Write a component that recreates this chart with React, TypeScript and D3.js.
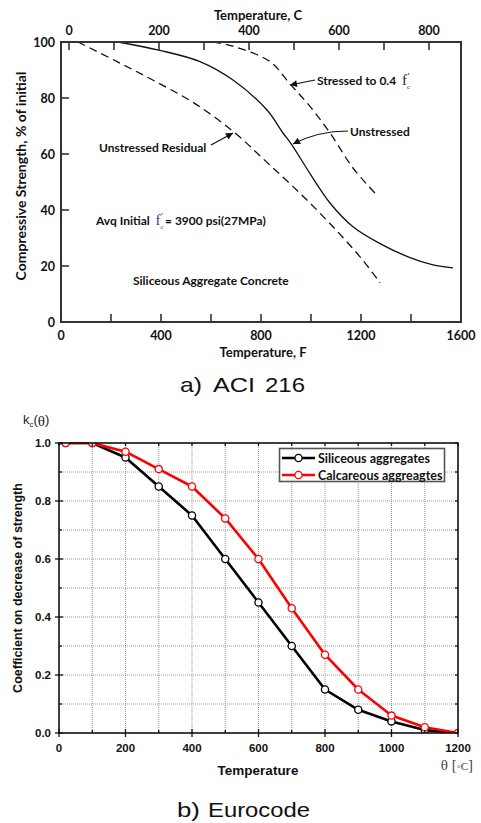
import React from 'react';
import * as d3 from 'd3';

// ---------- Chart a) ACI 216 ----------
const fTickLabels = [0, 400, 800, 1200, 1600];
const fTickMarks = [200, 400, 600, 800, 1000, 1200, 1400];
const cTickLabels = [0, 200, 400, 600, 800];
const cTickMarks = [0, 100, 200, 300, 400, 500, 600, 700, 800];
const pctTickLabels = [0, 20, 40, 60, 80, 100];
const pctTickMarks = [20, 40, 60, 80];

const unstressedF = [228, 396, 556, 688, 824, 888, 924, 996, 1076, 1168, 1276, 1396, 1488, 1568];
const unstressedPct = [100, 97, 93, 86.4, 75.7, 67.5, 63.2, 53, 42.5, 34, 28, 23, 20.4, 19.3];

const stressedF = [608, 688, 836, 916, 996, 1076, 1168, 1256];
const stressedPct = [100, 98.5, 93, 85, 77, 67.5, 55, 46];

const residualF = [68, 224, 376, 536, 696, 824, 956, 1088, 1208, 1276];
const residualPct = [100, 93, 86, 78, 67.5, 57, 46, 34, 22, 14];

// ---------- Chart b) Eurocode ----------
const euroTemps = [20, 100, 200, 300, 400, 500, 600, 700, 800, 900, 1000, 1100, 1200];
const siliceous = [1.0, 1.0, 0.95, 0.85, 0.75, 0.6, 0.45, 0.3, 0.15, 0.08, 0.04, 0.01, 0.0];
const calcareous = [1.0, 1.0, 0.97, 0.91, 0.85, 0.74, 0.6, 0.43, 0.27, 0.15, 0.06, 0.02, 0.0];
const tempTickLabels = [0, 200, 400, 600, 800, 1000, 1200];
const tempMinor = [100, 300, 500, 700, 900, 1100];
const kTickLabels = [0.0, 0.2, 0.4, 0.6, 0.8, 1.0];
const kMinor = [0.1, 0.3, 0.5, 0.7, 0.9];
const seriesNames = ['Siliceous aggregates', 'Calcareous aggreagtes'];
const seriesColors = ['#000000', '#ff0000'];

const CAL = 'Lato, "Open Sans", sans-serif';
const ARIAL = '"Liberation Sans", Arial, sans-serif';
const SERIF = '"Liberation Serif", "Times New Roman", serif';

function FPrimeC({ x, y, color = '#222' }: { x: number; y: number; color?: string }) {
  return (
    <g fontFamily={SERIF} fill={color}>
      <text x={x} y={y} fontSize={15}>f</text>
      <text x={x + 5.5} y={y - 5} fontSize={10}>′</text>
      <text x={x + 5} y={y + 4} fontSize={7}>c</text>
    </g>
  );
}

function ChartA() {
  const x = d3.scaleLinear().domain([0, 1600]).range([61, 461]);
  const y = d3.scaleLinear().domain([0, 100]).range([322, 42]);
  const xc = (c: number) => x(c * 1.8 + 32);
  const line = d3
    .line<[number, number]>()
    .x((d) => x(d[0]))
    .y((d) => y(d[1]))
    .curve(d3.curveCatmullRom.alpha(0.5));
  const toPts = (a: number[], b: number[]) => a.map((v, i) => [v, b[i]] as [number, number]);
  const arrowId = 'arrA';
  return (
    <g>
      <defs>
        <marker id={arrowId} viewBox="0 0 10 10" refX="10" refY="5" markerWidth="9" markerHeight="7" orient="auto" markerUnits="userSpaceOnUse">
          <path d="M0,0 L10,5 L0,10 Z" fill="#111" />
        </marker>
      </defs>
      {/* curves */}
      <path d={line(toPts(unstressedF, unstressedPct)) || ''} fill="none" stroke="#111" strokeWidth={1.3} />
      <path d={line(toPts(stressedF, stressedPct)) || ''} fill="none" stroke="#111" strokeWidth={1.3} strokeDasharray="8,5" />
      <path d={line(toPts(residualF, residualPct)) || ''} fill="none" stroke="#111" strokeWidth={1.3} strokeDasharray="8,5" />

      {/* frame */}
      <rect x={61} y={42} width={400} height={280} fill="none" stroke="#333" strokeWidth={2} />
      {fTickMarks.map((t) => (
        <line key={'bt' + t} x1={x(t)} x2={x(t)} y1={322} y2={314} stroke="#333" strokeWidth={1.6} />
      ))}
      {cTickMarks.map((t) => (
        <line key={'tt' + t} x1={xc(t)} x2={xc(t)} y1={42} y2={50} stroke="#333" strokeWidth={1.6} />
      ))}
      {pctTickMarks.map((t) => (
        <line key={'lt' + t} x1={61} x2={69} y1={y(t)} y2={y(t)} stroke="#333" strokeWidth={1.6} />
      ))}

      {/* tick labels */}
      <g fontFamily={CAL} fontWeight="bold" fontSize={12.5} fill="#111">
        {fTickLabels.map((t) => (
          <text key={'fl' + t} x={x(t)} y={340} textAnchor="middle">{t}</text>
        ))}
        {cTickLabels.map((t) => (
          <text key={'cl' + t} x={xc(t)} y={35} textAnchor="middle">{t}</text>
        ))}
        {pctTickLabels.map((t) => (
          <text key={'pl' + t} x={55} y={y(t) + 4.5} textAnchor="end">{t}</text>
        ))}
      </g>

      {/* axis titles */}
      <g fontFamily={CAL} fontWeight="bold" fontSize={13} fill="#111">
        <text x={258} y={19.5} textAnchor="middle">Temperature, C</text>
        <text x={263} y={356.5} textAnchor="middle">Temperature, F</text>
        <text transform="translate(26,176) rotate(-90)" textAnchor="middle" fontSize={14}>Compressive Strength, % of initial</text>
      </g>

      {/* annotations */}
      <g fontFamily={CAL} fontWeight="bold" fontSize={12} fill="#111">
        <text x={317} y={84.5}>Stressed to 0.4</text>
        <text x={350} y={135.5}>Unstressed</text>
        <text x={99} y={151.5}>Unstressed Residual</text>
        <text x={96} y={224.5}>Avq Initial</text>
        <text x={165} y={224.5}>= 3900 psi(27MPa)</text>
        <text x={133} y={284.5}>Siliceous Aggregate Concrete</text>
      </g>
      <FPrimeC x={402} y={85} />
      <FPrimeC x={155.5} y={225} color="#1f3f7a" />
      <line x1={315} y1={80} x2={290} y2={85} stroke="#111" strokeWidth={1.2} markerEnd={`url(#${arrowId})`} />
      <path d="M348,131 Q318,131 293,144" fill="none" stroke="#111" strokeWidth={1.2} markerEnd={`url(#${arrowId})`} />
      <line x1={211} y1={145} x2={233} y2={133} stroke="#111" strokeWidth={1.2} markerEnd={`url(#${arrowId})`} />

      <g fontFamily={ARIAL} fontSize={21} fill="#111">
        <text x={180} y={392} textLength={22} lengthAdjust="spacingAndGlyphs">a)</text>
        <text x={213} y={392} textLength={42} lengthAdjust="spacingAndGlyphs">ACI</text>
        <text x={265} y={392} textLength={40} lengthAdjust="spacingAndGlyphs">216</text>
      </g>
    </g>
  );
}

function ChartB() {
  const L = 59, R = 458, T = 443, B = 733;
  const x = d3.scaleLinear().domain([0, 1200]).range([L, R]);
  const y = d3.scaleLinear().domain([0, 1]).range([B, T]);
  const line = d3
    .line<[number, number]>()
    .x((d) => x(d[0]))
    .y((d) => y(d[1]));
  const series = [siliceous, calcareous];
  return (
    <g>
      <defs>
        <clipPath id="clipB">
          <rect x={L} y={T - 1} width={R - L} height={B - T + 1} />
        </clipPath>
      </defs>
      {/* grid */}
      <g stroke="#9a9a9a" strokeWidth={1} strokeDasharray="1,1">
        {[...tempMinor, ...tempTickLabels.filter((t) => t > 0 && t < 1200)].map((t) => (
          <line key={'vg' + t} x1={x(t)} x2={x(t)} y1={T} y2={B} />
        ))}
        {[...kMinor, ...kTickLabels.filter((k) => k > 0 && k < 1)].map((k) => (
          <line key={'hg' + k} x1={L} x2={R} y1={y(k)} y2={y(k)} />
        ))}
      </g>
      {/* series */}
      <g clipPath="url(#clipB)">
        {series.map((vals, si) => {
          const pts = [[0, vals[0]] as [number, number], ...euroTemps.map((t, i) => [t, vals[i]] as [number, number])];
          return (
            <g key={'s' + si}>
              <path d={line(pts) || ''} fill="none" stroke={seriesColors[si]} strokeWidth={2.6} strokeLinejoin="round" />
              {euroTemps.map((t, i) => (
                <circle key={i} cx={x(t)} cy={y(vals[i])} r={3.6} fill="#fff" stroke={seriesColors[si]} strokeWidth={1.3} />
              ))}
            </g>
          );
        })}
      </g>
      {/* frame */}
      <rect x={L} y={T} width={R - L} height={B - T} fill="none" stroke="#111" strokeWidth={1.6} />
      <g stroke="#111" strokeWidth={1.3}>
        {tempTickLabels.map((t) => (
          <line key={'bmaj' + t} x1={x(t)} x2={x(t)} y1={B - 4} y2={B + 4} />
        ))}
        {tempMinor.map((t) => (
          <line key={'bmin' + t} x1={x(t)} x2={x(t)} y1={B} y2={B - 3} />
        ))}
        {[...tempTickLabels, ...tempMinor].map((t) => (
          <line key={'tmin' + t} x1={x(t)} x2={x(t)} y1={T} y2={T + 3} />
        ))}
        {kTickLabels.map((k) => (
          <line key={'lmaj' + k} x1={L - 4} x2={L + 4} y1={y(k)} y2={y(k)} />
        ))}
        {kMinor.map((k) => (
          <line key={'lmin' + k} x1={L} x2={L + 3} y1={y(k)} y2={y(k)} />
        ))}
        {[...kTickLabels, ...kMinor].map((k) => (
          <line key={'rmin' + k} x1={R} x2={R - 3} y1={y(k)} y2={y(k)} />
        ))}
      </g>
      {/* tick labels */}
      <g fontFamily={ARIAL} fontWeight="bold" fontSize={11.5} fill="#111">
        {tempTickLabels.map((t) => (
          <text key={'tl' + t} x={x(t)} y={752} textAnchor="middle">{t}</text>
        ))}
        {kTickLabels.map((k) => (
          <text key={'kl' + k} x={51} y={y(k) + 4} textAnchor="end">{k.toFixed(1)}</text>
        ))}
      </g>
      <text x={258} y={775} textAnchor="middle" fontFamily={ARIAL} fontWeight="bold" fontSize={13.5} fill="#111">Temperature</text>
      <text transform="translate(22,588) rotate(-90)" textAnchor="middle" fontFamily={ARIAL} fontWeight="bold" fontSize={12.5} fill="#111">
        Coefficient on decrease of strength
      </text>
      {/* k_c(theta) */}
      <text x={23} y={424} fontFamily={ARIAL} fontSize={13} fill="#222">
        k<tspan fontSize={8} dy={3}>c</tspan>
        <tspan dy={-3}>(</tspan>
        <tspan fontFamily={SERIF} fontSize={15} dy={2}>θ</tspan>
        <tspan dy={-2}>)</tspan>
      </text>
      <text x={473} y={770} textAnchor="end" fontFamily={SERIF} fontSize={15} fill="#444">
        θ [<tspan fontSize={11}>◦C</tspan>]
      </text>
      {/* legend */}
      <rect x={279.5} y={448.5} width={165} height={33} fill="#fff" stroke="#555" strokeWidth={1.6} />
      {seriesNames.map((n, i) => (
        <g key={'lg' + i}>
          <line x1={282} x2={315} y1={458 + i * 17} y2={458 + i * 17} stroke={seriesColors[i]} strokeWidth={2.6} />
          <circle cx={298.5} cy={458 + i * 17} r={3.6} fill="#fff" stroke={seriesColors[i]} strokeWidth={1.3} />
          <text x={318} y={462.5 + i * 17} fontFamily={CAL} fontWeight="bold" fontSize={12.5} fill="#111">{n}</text>
        </g>
      ))}
      <g fontFamily={ARIAL} fontSize={21} fill="#111">
        <text x={177} y={817} textLength={23} lengthAdjust="spacingAndGlyphs">b)</text>
        <text x={208} y={817} textLength={102} lengthAdjust="spacingAndGlyphs">Eurocode</text>
      </g>
    </g>
  );
}

export default function App() {
  return (
    <svg
      width={481}
      height={823}
      viewBox="0 0 481 823"
      style={{ position: 'absolute', left: 0, top: 0, background: '#fff' }}
    >
      <rect x={0} y={0} width={481} height={823} fill="#fff" />
      <ChartA />
      <ChartB />
    </svg>
  );
}
